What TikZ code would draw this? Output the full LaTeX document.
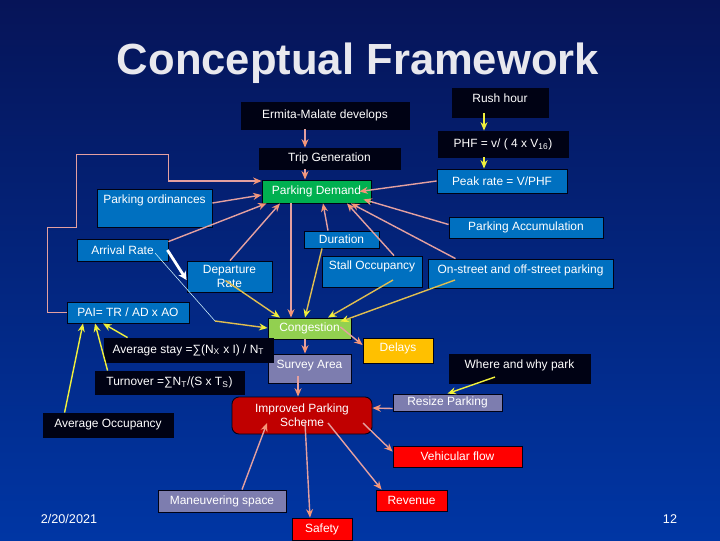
\documentclass[tikz,border=0pt]{standalone}
\usepackage{fontspec}
\setmainfont{Liberation Sans}
\usetikzlibrary{arrows.meta, calc}

\definecolor{bgtop}{RGB}{6,20,88}
\definecolor{bgbot}{RGB}{0,54,164}
\definecolor{boxblue}{RGB}{0,112,192}
\definecolor{boxblack}{RGB}{0,2,20}
\definecolor{boxgreen}{RGB}{0,176,80}
\definecolor{boxlime}{RGB}{146,208,80}
\definecolor{boxgold}{RGB}{255,192,0}
\definecolor{boxlav}{RGB}{125,125,175}
\definecolor{boxdred}{RGB}{192,0,0}
\definecolor{boxred}{RGB}{255,0,0}
\definecolor{pinkline}{RGB}{228,160,160}
\definecolor{salmon}{RGB}{245,150,120}
\definecolor{goldline}{RGB}{225,190,80}
\definecolor{yell}{RGB}{240,240,60}
\definecolor{titlegrey}{RGB}{232,232,238}

\begin{document}
\begin{tikzpicture}[x=0.025cm, y=-0.025cm]
            \tikzset{box/.style 2 args = {draw=boxblack, line width=0.6pt, inner sep=0pt,
                minimum width=#1*0.025cm, minimum height=#2*0.025cm,
                text=white, font=\fontsize{8.5}{10}\selectfont, align=center}}
            \tikzset{pk/.style = {pinkline, line width=1pt, -{Stealth[length=6pt,width=5pt,color=salmon]}}}
            \tikzset{gd/.style = {goldline, line width=1pt, -{Stealth[length=6pt,width=5pt,color=yell]}}}
            \tikzset{yl/.style = {yell, line width=1pt, -{Stealth[length=6pt,width=5pt]}}}

            % background
            \useasboundingbox (0,0) rectangle (720,540);
            \shade[top color=bgtop, bottom color=bgbot] (0,0) rectangle (720,540);
            \node[text=titlegrey, font=\fontsize{31}{36}\selectfont\bfseries] (title) at (358,63) {Conceptual Framework};

            % top boxes
            \node[box={168}{27}, fill=boxblack] (erm) at (325,115.5) {Ermita-Malate develops};
            \node[box={141}{21}, fill=boxblack] (trip) at (329.5,158.5) {Trip Generation};
            \node[box={109}{23}, fill=boxgreen] (pd) at (316.5,191.5) {Parking Demand};
            \node[box={115}{38}, fill=boxblue, text depth=13pt] (ord) at (154.5,208) {Parking ordinances};
            \node[box={96}{29}, fill=boxblack, text depth=6.5pt] (rush) at (500,102.5) {Rush hour};
            \node[box={130}{26}, fill=boxblack] (phf) at (503,144) {PHF = v/ ( 4 x V\textsubscript{16})};
            \node[box={130}{24}, fill=boxblue] (peak) at (502,181) {Peak rate = V/PHF};
            \node[box={154}{21}, fill=boxblue] (acc) at (526,227.5) {Parking Accumulation};

            % middle boxes
            \node[box={91}{22}, fill=boxblue] (arr) at (122.5,250) {Arrival Rate};
            \node[box={85}{31}, fill=boxblue] (dep) at (229.5,276.5) {Departure\\Rate};
            \node[box={75}{17}, fill=boxblue] (dur) at (341.5,239.5) {Duration};
            \node[box={100}{31}, fill=boxblue, text depth=9.5pt] (stall) at (372,271.5) {Stall Occupancy};
            \node[box={185}{29}, fill=boxblue, text depth=6.5pt] (onst) at (520.5,273.5) {On-street and off-street parking};
            \node[box={122}{21}, fill=boxblue] (pai) at (128,312.5) {PAI= TR / AD x AO};
            \node[box={83}{21}, fill=boxlime] (cong) at (309.5,328.5) {Congestion};
            \node[box={70}{25}, fill=boxgold, text depth=5pt] (delay) at (398,350.5) {Delays};
            \node[box={83}{29}, fill=boxlav, text depth=6.5pt] (survey) at (309.5,368.5) {Survey Area};
            \node[box={141}{29}, fill=boxblack, text depth=6.5pt] (where) at (519.5,368.5) {Where and why park};
            \node[box={169}{24}, fill=boxblack] (avst) at (188.5,350) {Average stay =∑(N\textsubscript{X} x I) / N\textsubscript{T}};
            \node[box={149}{23}, fill=boxblack] (turn) at (169.5,382.5) {Turnover =∑N\textsubscript{T}/(S x T\textsubscript{S})};
            \node[box={130}{24}, fill=boxblack] (avoc) at (108,425) {Average Occupancy};

            % bottom boxes
            \node[box={109}{17}, fill=boxlav] (resize) at (447.5,402.5) {Resize Parking};
            \node[box={140}{37}, fill=boxdred, rounded corners=5pt] (imp) at (302,415.5) {Improved Parking\\Scheme};
            \node[box={129}{21}, fill=boxred] (veh) at (457.5,456.5) {Vehicular flow};
            \node[box={71}{21}, fill=boxred] (rev) at (411.5,500.5) {Revenue};
            \node[box={128}{22}, fill=boxlav] (man) at (222,501) {Maneuvering space};
            \node[box={60}{22}, fill=boxred] (safe) at (322,529) {Safety};

            % footer
            \node[text=white, font=\fontsize{9}{11}\selectfont] (date) at (69,519) {2/20/2021};
            \node[text=white, font=\fontsize{9}{11}\selectfont] (page) at (670,519) {12};

            % arrows into parking demand
            \draw[pk] ($(erm.south)+(-20,0)$) -- ($(trip.north)+(-24.5,0)$);
            \draw[pk] ($(trip.south)+(-24.5,0)$) -- ($(pd.north)+(-11.5,0)$);
            \draw[yl] ($(rush.south)+(-16,-4)$) -- ($(phf.north)+(-19,0)$);
            \draw[yl] ($(phf.south)+(-19,0)$) -- ($(peak.north)+(-18,0)$);
            \draw[pk] (peak.west) -- ($(pd.east)+(-12,0)$);
            \draw[pk] ($(acc.west)+(0,-3)$) -- ($(pd.south east)+(-8,-4)$);
            \draw[pk] ($(onst.north)+(-65,0)$) -- ($(pd.south)+(34.5,0)$);
            \draw[pk] ($(stall.north)+(22,0)$) -- ($(pd.south)+(30.5,0)$);
            \draw[pk] ($(dur.north)+(-13.5,0)$) -- ($(pd.south)+(6.5,0)$);
            \draw[pk] ($(dep.north)+(0.5,0)$) -- ($(pd.south)+(-36.5,0)$);
            \draw[pk] ($(arr.north east)+(0,3)$) -- ($(pd.south west)+(5,0)$);
            \draw[pk] ($(ord.east)+(0,-5)$) -- ($(pd.west)+(0,3.5)$);
            \draw[pk] (pai.west) -- ++(-19,0) -- ++(0,-85) -- ++(29,0) -- ++(0,-73) -- ++(92,0)
                |- ($(pd.west)+(0,-10.5)$);

            % arrows into congestion
            \draw[pk] ($(pd.south)+(-25.5,0)$) -- ($(cong.north)+(-18.5,0)$);
            \draw[gd] ($(dep.center)+(-4,4)$) -- ($(cong.north)+(-29.5,0)$);
            \coordinate (bend) at (215,321);
            \draw[white!80!cyan, line width=0.4pt] ($(arr.center)+(32.5,3)$) -- (bend);
            \draw[gd] (bend) -- ($(cong.west)+(0,-0.5)$);
            \draw[white, line width=2pt, -{Stealth[length=6pt,width=6pt]}] ($(arr.east)+(-1,0)$) -- ($(dep.west)+(0,3.5)$);
            \draw[gd] ($(dur.south)+(-19.5,0)$) -- ($(cong.north)+(-4.5,0)$);
            \draw[gd] ($(stall.center)+(21,8.5)$) -- ($(cong.north)+(18.5,0)$);
            \draw[gd] ($(onst.center)+(-65.5,6.5)$) -- ($(cong.north east)+(-11,4)$);

            % arrows out of congestion
            \draw[pk] ($(cong.south)+(-4.5,0)$) -- ($(survey.north)+(-4.5,0)$);
            \draw[pk] ($(cong.east)+(-11,-1.5)$) -- ($(delay.west)+(0,-5.5)$);
            \draw[pk] ($(survey.south)+(-11.5,-7)$) -- ($(imp.north)+(-4,0)$);
            \draw[yl] ($(where.center)+(-24.5,8.5)$) -- (resize.north);
            \draw[pk] ($(resize.west)+(0,6)$) -- ($(imp.east)+(0,-7.5)$);

            % improved parking scheme
            \draw[pk] ($(imp.center)+(61,7.5)$) -- ($(veh.north west)+(0,6)$);
            \draw[pk] ($(imp.center)+(26,7.5)$) -- ($(rev.north west)+(6,0)$);
            \draw[pk] ($(imp.center)+(3,7.5)$) -- ($(safe.north)+(-12,0)$);
            \draw[pk] ($(man.north)+(20,0)$) -- ($(imp.center)+(-35,7.5)$);

            % pai arrows
            \draw[yl] ($(avst.north west)+(24,0)$) -- ($(pai.south)+(-25,0)$);
            \draw[yl] ($(turn.north west)+(13,0)$) -- ($(pai.south)+(-33,0)$);
            \draw[yl] ($(avoc.north west)+(22,0)$) -- ($(pai.south)+(-45,0)$);

\end{tikzpicture}
\end{document}
